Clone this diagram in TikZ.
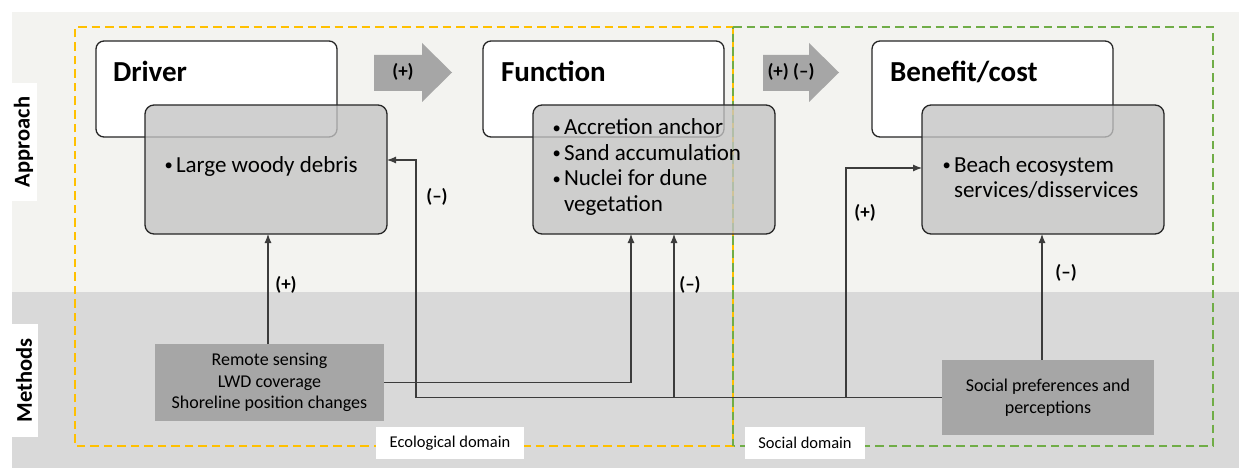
\documentclass[tikz,border=0pt]{standalone}
\usepackage{fontspec}
\setmainfont{Carlito}
\usetikzlibrary{arrows.meta}
\definecolor{appbg}{HTML}{F3F3F0}
\definecolor{metbg}{HTML}{D9D9D9}
\definecolor{graybox}{HTML}{C4C4C4}
\definecolor{darkbox}{HTML}{A6A6A6}
\definecolor{ylw}{HTML}{FFC000}
\definecolor{grn}{HTML}{70AD47}
\definecolor{lin}{HTML}{3C3C3C}
\newcommand{\bul}{\makebox[12pt][l]{\hspace{0.5pt}\raisebox{1.6pt}{\scalebox{0.72}{\textbullet}}}}
\begin{document}
\begin{tikzpicture}[x=1pt,y=-1pt,
  every node/.style={inner sep=0pt,outer sep=0pt},
  titlebox/.style={draw=black!85,line width=1.3pt,fill=white,rounded corners=8pt,anchor=north west,minimum width=241,minimum height=96},
  itembox/.style={draw=black!85,line width=1.3pt,fill=graybox,fill opacity=0.78,rounded corners=9pt,anchor=north west,minimum width=242,minimum height=129},
  methbox/.style={fill=darkbox,align=center,font=\fontsize{18}{21.5}\selectfont},
  bandlabel/.style={fill=white,rotate=90,font=\fontsize{22.5}{26}\selectfont\bfseries},
  titletext/.style={anchor=base west,font=\fontsize{29}{32}\selectfont\bfseries},
  itemtext/.style={anchor=base west,font=\fontsize{23}{25.5}\selectfont},
  domlabel/.style={fill=white,minimum height=32,font=\fontsize{16.5}{19}\selectfont},
  blockarrow/.style={fill=darkbox},
  sign/.style={font=\fontsize{19}{22}\selectfont\bfseries},
  conn/.style={draw=lin,line width=1.1pt,-{Latex[length=9pt,width=7pt]}},
  ydash/.style={draw=ylw,line width=2.6pt,dash pattern=on 8.5pt off 5pt},
  gdash/.style={draw=grn,line width=2.6pt,dash pattern=on 8.5pt off 5pt}]
\useasboundingbox (0,0) rectangle (1239,468);
\fill[white] (0,0) rectangle (1239,468);
% bands
\fill[appbg] (12,12) rectangle (1239,292);
\fill[metbg] (12,292) rectangle (1239,468);
\node[bandlabel,minimum width=118,minimum height=27] (appl) at (23.5,142) {Approach};
\node[bandlabel,minimum width=113,minimum height=28] (metl) at (24,380.5) {Methods};
% domains
\draw[ydash] (733,446) -- (75,446) -- (75,27) -- (733,27);
\draw[gdash] (733,27) -- (1213,27) -- (1213,446) -- (733,446);
\draw[ydash] (733,27) -- (733,446);
\draw[gdash,dash phase=6.75pt] (733,27) -- (733,446);
% title boxes
\node[titlebox] (drvw) at (96,41) {};
\node[titlebox] (funw) at (483,41) {};
\node[titlebox] (benw) at (872,41) {};
\node[titletext] (drvt) at (113,82) {Driver};
\node[titletext] (funt) at (501,82) {Function};
\node[titletext] (bent) at (890,82) {Benefit/cost};
% item boxes
\node[itembox] (drvg) at (145,105) {};
\node[itembox] (fung) at (533,105) {};
\node[itembox] (beng) at (922,105) {};
\node[itemtext] (drvi) at (164,172) {\bul Large woody debris};
\node[itemtext] (funi) at (552,135) {\begin{tabular}[t]{@{}l@{}}\bul Accretion anchor\\ \bul Sand accumulation\\ \bul Nuclei for dune\\ \makebox[12pt]{}vegetation\end{tabular}};
\node[itemtext] (beni) at (942,172) {\begin{tabular}[t]{@{}l@{}}\bul Beach ecosystem\\ \makebox[12pt]{}services/disservices\end{tabular}};
% block arrows
\fill[blockarrow] (374,55) -- (422,55) -- (422,43) -- (452,72.5) -- (422,102) -- (422,91) -- (374,91) -- cycle;
\node[sign] (a1) at (403,72) {(+)};
\fill[blockarrow] (763,55) -- (809,55) -- (809,43) -- (839,72.5) -- (809,102) -- (809,91) -- (763,91) -- cycle;
\node[sign] (a2) at (791,72) {(+) (–)};
% method boxes
\node[methbox,minimum width=229,minimum height=77] (rs) at (269.5,382.5) {Remote sensing\\LWD coverage\\Shoreline position changes};
\node[methbox,minimum width=212,minimum height=75] (sp) at (1048,397.5) {Social preferences and\\perceptions};
% domain labels
\node[domlabel,minimum width=148] (eco) at (450,443) {Ecological domain};
\node[domlabel,minimum width=120] (soc) at (805,443) {Social domain};
% connector coordinates
\coordinate (c2) at (631,382.5);
\coordinate (c3a) at (416,397.5);
\coordinate (c3b) at (416,160);
\coordinate (c4) at (674,397.5);
\coordinate (c5a) at (846,397.5);
\coordinate (c5b) at (846,168);
% connectors
\draw[conn] (rs.north -| 268,0) -- (drvg.south -| 268,0);
\draw[conn] (rs.east) -- (c2) -- (fung.south -| c2);
\draw[conn] (sp.west) -- (c3a) -- (c3b) -- (drvg.east |- c3b);
\draw[conn] (c4) -- (fung.south -| c4);
\draw[conn] (c5a) -- (c5b) -- (beng.west |- c5b);
\draw[conn] (sp.north -| 1042,0) -- (beng.south -| 1042,0);
% signs
\node[sign] (s1) at (286,285) {(+)};
\node[sign] (s2) at (437,197) {(–)};
\node[sign] (s3) at (690,285) {(–)};
\node[sign] (s4) at (865,213) {(+)};
\node[sign] (s5) at (1066,273) {(–)};
\end{tikzpicture}
\end{document}
